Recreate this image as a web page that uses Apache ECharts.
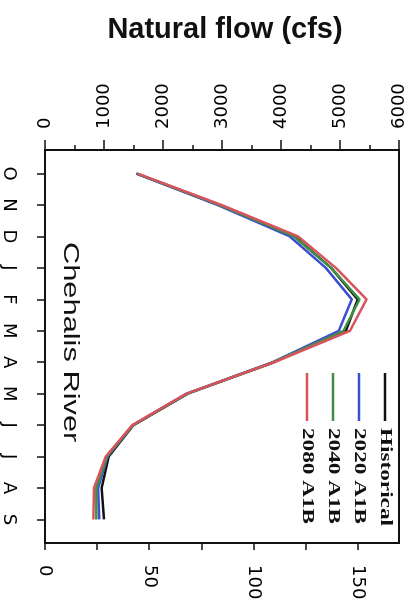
<!DOCTYPE html>
<html>
<head>
<meta charset="utf-8">
<script src="https://cdn.jsdelivr.net/npm/echarts@6/dist/echarts.min.js"></script>
<style>
html,body{margin:0;padding:0;background:#fff;}
#chart{width:417px;height:605px;}
</style>
</head>
<body>
<div id="chart"></div>
<script>
// ---- data ----
var months = ['O','N','D','J','F','M','A','M','J','J','A','S'];
var monthIndex = [1,2,3,4,5,6,7,8,9,10,11,12];
var seriesNames = ['Historical','2020 A1B','2040 A1B','2080 A1B'];
var seriesColors = ['#111111','#3b4fd0','#3f8f45','#d9535c'];
var historical = [1550, 2950, 4230, 4850, 5300, 5100, 3880, 2420, 1500, 1080, 960, 1000];
var a1b2020    = [1550, 2930, 4150, 4760, 5200, 4980, 3860, 2400, 1490, 1060, 900, 920];
var a1b2040    = [1560, 2960, 4220, 4850, 5330, 5060, 3870, 2410, 1490, 1050, 870, 870];
var a1b2080    = [1570, 2990, 4290, 4930, 5450, 5170, 3880, 2400, 1480, 1030, 830, 820];
var cfsTicks = [0,1000,2000,3000,4000,5000,6000];
var cmsLabels = [0,50,100,150];
var titleText = 'Natural flow (cfs)';
var riverName = 'Chehalis River';
var CFS_PER_CMS = 35.3147;

var allValues = [historical, a1b2020, a1b2040, a1b2080];

var chart = echarts.init(document.getElementById('chart'));

var gridL = 45, gridT = 150, gridW = 354, gridH = 393;

var series = allValues.map(function (vals, i) {
  return {
    name: seriesNames[i],
    type: 'line',
    xAxisIndex: 0,
    yAxisIndex: 0,
    symbol: 'none',
    smooth: false,
    lineStyle: { color: seriesColors[i], width: 2.5 },
    itemStyle: { color: seriesColors[i] },
    data: vals.map(function (v, k) { return [v, monthIndex[k]]; }),
    z: 2 + i
  };
});

// rotated legend and river label (graphic)
var graphics = [];
seriesNames.forEach(function (name, i) {
  var cx = 385 - 26 * i;
  graphics.push({
    type: 'line',
    shape: { x1: cx, y1: 373, x2: cx, y2: 421 },
    style: { stroke: seriesColors[i], lineWidth: 2.5 },
    z: 10
  });
  graphics.push({
    type: 'text',
    x: cx, y: 428,
    rotation: -Math.PI / 2,
    scaleX: 1.45,
    style: {
      text: name,
      fontFamily: 'Liberation Serif',
      fontWeight: 'bold',
      fontSize: 16,
      fill: '#111',
      align: 'left', textAlign: 'left',
      verticalAlign: 'middle', textVerticalAlign: 'middle'
    },
    z: 10
  });
});
graphics.push({
  type: 'text',
  x: 70, y: 242,
  rotation: -Math.PI / 2,
  scaleX: 1.4,
  style: {
    text: riverName,
    fontFamily: 'Liberation Sans',
    fontSize: 22,
    fill: '#111',
    align: 'left', textAlign: 'left',
    verticalAlign: 'middle', textVerticalAlign: 'middle'
  },
  z: 10
});

var labelFont = { fontFamily: 'DejaVu Sans', fontSize: 18, color: '#000' };

var option = {
  animation: false,
  backgroundColor: '#fff',
  title: {
    text: titleText,
    left: 220,
    textAlign: 'center',
    top: 10,
    textStyle: { fontFamily: 'Liberation Sans', fontWeight: 'bold', fontSize: 29, color: '#111' }
  },
  grid: {
    left: gridL, top: gridT, width: gridW, height: gridH,
    show: true, borderColor: '#111', borderWidth: 2, backgroundColor: 'transparent'
  },
  xAxis: [
    {
      type: 'value', position: 'top',
      min: cfsTicks[0], max: cfsTicks[cfsTicks.length - 1], interval: 1000,
      axisLine: { show: true, onZero: false, lineStyle: { color: '#111', width: 2 } },
      axisTick: { show: true, inside: false, length: 10, lineStyle: { color: '#111', width: 1.5 } },
      minorTick: { show: true, splitNumber: 2, length: 5, lineStyle: { color: '#111', width: 1.5 } },
      splitLine: { show: false },
      axisLabel: Object.assign({
        rotate: -90, margin: 21,
        formatter: function (v) { return String(v); }
      }, labelFont)
    },
    {
      type: 'value', position: 'bottom',
      min: 0, max: cfsTicks[cfsTicks.length - 1] / CFS_PER_CMS, interval: 25,
      axisLine: { show: true, onZero: false, lineStyle: { color: '#111', width: 2 } },
      axisTick: { show: true, inside: false, length: 7, lineStyle: { color: '#111', width: 1.5 } },
      splitLine: { show: false },
      axisLabel: Object.assign({
        rotate: -90, margin: 22, showMaxLabel: false,
        formatter: function (v) { return cmsLabels.indexOf(Math.round(v * 1000) / 1000) >= 0 ? String(v) : ''; }
      }, labelFont)
    }
  ],
  yAxis: {
    type: 'value', inverse: true,
    min: 0.25, max: 12.75,
    axisLine: { show: true, onZero: false, lineStyle: { color: '#111', width: 2 } },
    axisTick: { show: true, inside: false, length: 8, customValues: monthIndex, lineStyle: { color: '#111', width: 1.5 } },
    splitLine: { show: false },
    axisLabel: Object.assign({
      rotate: -90, margin: 27, customValues: monthIndex,
      formatter: function (v) { var k = Math.round(v); return (Math.abs(v - k) < 1e-6 && k >= 1 && k <= 12) ? months[k - 1] : ''; }
    }, labelFont)
  },
  series: series,
  graphic: graphics
};

chart.setOption(option);
</script>
</body>
</html>
